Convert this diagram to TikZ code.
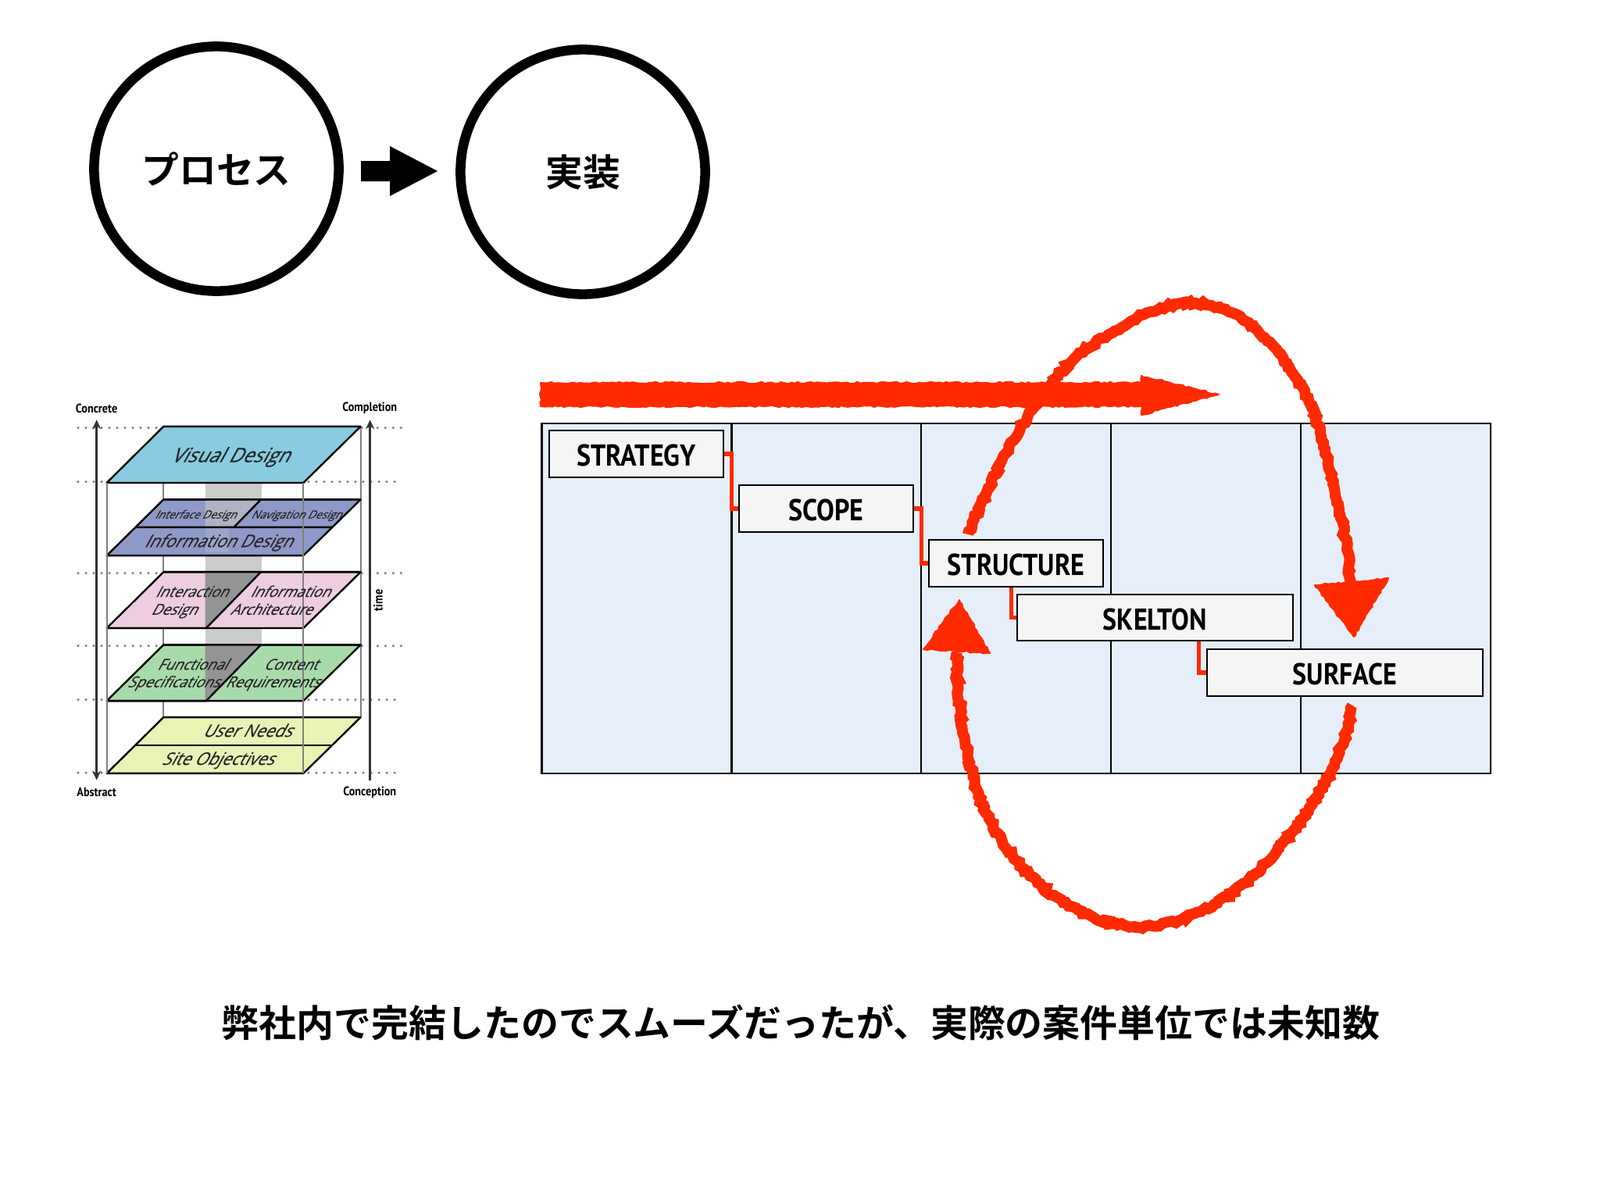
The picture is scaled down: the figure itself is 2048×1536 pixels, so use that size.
\documentclass[tikz,border=0pt]{standalone}
\usepackage{fontspec}
\usetikzlibrary{arrows.meta,decorations.pathmorphing}
\newfontfamily\cjk{Noto Sans CJK JP Bold}
\newfontfamily\din[FakeStretch=0.88]{PT Sans Bold}
\newfontfamily\planefont[FakeSlant=0.55,FakeBold=0.4,FakeStretch=0.95]{Open Sans}
\definecolor{sky}{RGB}{137,203,224}
\definecolor{indigo}{RGB}{143,153,199}
\definecolor{blush}{RGB}{238,205,225}
\definecolor{mint}{RGB}{167,220,170}
\definecolor{lime}{RGB}{233,243,180}
\definecolor{panelblue}{RGB}{230,239,249}
\definecolor{boxgray}{RGB}{245,245,245}
\definecolor{marker}{RGB}{255,42,0}
\begin{document}
\begin{tikzpicture}[
     x = 0.01cm,
     y = -0.01cm,
     ball/.style = {circle, draw, line width = 0.125cm, minimum size = 3.13cm, font = \cjk\fontsize{13.6}{16}\selectfont},
     plane/.style = {draw, line width = 0.024cm, line join = round},
     rail/.style = {draw = black!50, line width = 0.022cm},
     dots/.style = {draw = black!50, line width = 0.035cm, line cap = round, dash pattern = on 0pt off 0.1cm},
     axis/.style = {draw = black!80, line width = 0.035cm},
     axislabel/.style = {font = \din\fontsize{4.6}{5}\selectfont},
     planelabel/.style = {font = \planefont\fontsize{6.3}{7}\selectfont, text = black!85, text height = 0.7em, text depth = 0.2em},
     visuallabel/.style = {planelabel, font = \planefont\fontsize{7.3}{8}\selectfont},
     midlabel/.style = {planelabel, font = \planefont\fontsize{5.5}{6}\selectfont},
     smalllabel/.style = {planelabel, font = \planefont\fontsize{4.1}{5}\selectfont},
     stage/.style = {draw, line width = 0.02cm, fill = boxgray, minimum width = 2.23cm, minimum height = 0.59cm, inner sep = 0pt, text height = 0.31cm, text depth = 0cm, font = \din\fontsize{11}{13}\selectfont},
     longstage/.style = {stage, minimum width = 3.53cm},
     link/.style = {draw = marker, line width = 0.055cm},
     column/.style = {draw, fill = panelblue, line width = 0.022cm},
     scribble/.style = {draw = marker, line width = 0.14cm, decorate, decoration = {random steps, segment length = 1.2pt, amplitude = 0.6pt}},
     scribblefill/.style = {draw = marker, fill = marker, line width = 0.02cm, line join = round, decorate, decoration = {random steps, segment length = 1.2pt, amplitude = 0.35pt}}
    ]
    \useasboundingbox (0,0) rectangle (2048,1536);

    \node[ball] (process) at (277,216) {プロセス};
    \node[ball] (build) at (746,220) {実装};
    \fill (462,206) -- (499,206) -- (499,187) -- (560,219) -- (499,251) -- (499,232) -- (462,232) -- cycle;

    \begin{scope}[shift = {(80,500)}, xscale = 0.3333, yscale = 0.345]
     \draw[dots] (60,138) -- (380,138);
     \draw[dots] (1150,138) -- (1305,138);
     \draw[dots] (60,338) -- (170,338);
     \draw[dots] (945,338) -- (1305,338);
     \draw[dots] (60,677) -- (380,677);
     \draw[dots] (1150,677) -- (1305,677);
     \draw[dots] (60,947) -- (380,947);
     \draw[dots] (1150,947) -- (1305,947);
     \draw[dots] (60,1147) -- (170,1147);
     \draw[dots] (945,1147) -- (1305,1147);
     \draw[dots] (60,1418) -- (170,1418);
     \draw[dots] (945,1418) -- (1305,1418);

     \draw[rail] (388,342) -- (388,1212);
     \draw[rail] (1145,133) -- (1145,1212);
     \fill[black!20] (548,342) rectangle (766,1151);

     \draw[plane, fill = lime] (388,1212) -- (1145,1212) -- (925,1420) -- (170,1420) -- cycle;
     \draw[plane] (280,1316) -- (1035,1316);

     \draw[plane, fill = mint] (388,943) -- (1145,943) -- (925,1151) -- (170,1151) -- cycle;
     \fill[black!42] (548,943) -- (762,943) -- (552,1151) -- (548,1151) -- cycle;
     \draw[plane] (388,943) -- (1145,943) (762,943) -- (552,1151) -- (170,1151);

     \draw[plane, fill = blush] (388,673) -- (1145,673) -- (925,881) -- (170,881) -- cycle;
     \fill[black!42] (548,673) -- (762,673) -- (552,881) -- (548,881) -- cycle;
     \draw[plane] (388,673) -- (1145,673) (762,673) -- (552,881) -- (170,881);

     \draw[plane, fill = indigo] (388,404) -- (1145,404) -- (925,612) -- (170,612) -- cycle;
     \fill[black!25, opacity = 0.7] (548,404) -- (762,404) -- (658,507) -- (548,507) -- cycle;
     \fill[white, opacity = 0.12] (548,507) rectangle (640,600);
     \draw[plane] (388,404) -- (1145,404) (762,404) -- (658,507) (280,507) -- (1035,507);

     \draw[plane, fill = sky] (388,133) -- (1145,133) -- (925,342) -- (170,342) -- cycle;

     \draw[rail] (170,342) -- (170,1420);
     \draw[rail] (925,342) -- (925,1420);

     \coordinate (concretetip) at (131,108);
     \coordinate (abstracttip) at (131,1445);
     \coordinate (completiontip) at (1181,108);
     \coordinate (conceptionend) at (1181,1445);
     \draw[axis, {Stealth[length = 0.12cm, width = 0.11cm]}-{Stealth[length = 0.12cm, width = 0.11cm]}] (concretetip) -- (abstracttip);
     \draw[axis, -{Stealth[length = 0.12cm, width = 0.11cm]}] (conceptionend) -- (completiontip);

     \node[axislabel] (concrete) at (131,66) {Concrete};
     \node[axislabel] (completion) at (1180,66) {Completion};
     \node[axislabel] (abstract) at (131,1490) {Abstract};
     \node[axislabel] (conception) at (1180,1490) {Conception};
     \node[axislabel, rotate = 90] (time) at (1212,778) {time};

     \node[visuallabel] (visual) at (642,240) {Visual Design};
     \node[smalllabel] (interface) at (510,449) {Interface Design};
     \node[smalllabel] (navigation) at (897,449) {Navigation Design};
     \node[planelabel] (information) at (597,555) {Information Design};
     \node[midlabel] (interaction) at (495,740) {Interaction};
     \node[midlabel] (interactiontwo) at (427,806) {Design};
     \node[midlabel] (architecture) at (873,740) {Information};
     \node[midlabel] (architecturetwo) at (800,806) {Architecture};
     \node[midlabel] (functional) at (497,1010) {Functional};
     \node[midlabel] (functionaltwo) at (425,1075) {Specifications};
     \node[midlabel] (content) at (875,1010) {Content};
     \node[midlabel] (contenttwo) at (805,1075) {Requirements};
     \node[planelabel] (needs) at (708,1259) {User Needs};
     \node[planelabel] (objectives) at (595,1363) {Site Objectives};
    \end{scope}

    \draw[column] (693.5,542) rectangle (936.4,990);
    \draw[column] (936.4,542) rectangle (1179.3,990);
    \draw[column] (1179.3,542) rectangle (1422.2,990);
    \draw[column] (1422.2,542) rectangle (1665.2,990);
    \draw[column] (1665.2,542) rectangle (1908,990);

    \node[stage] (strategy) at (814.5,581) {STRATEGY};
    \node[stage] (scope) at (1057.5,651) {SCOPE};
    \node[stage] (structure) at (1300.5,721) {STRUCTURE};
    \node[longstage] (skelton) at (1478.5,790.5) {SKELTON};
    \node[longstage] (surface) at (1721.5,861) {SURFACE};

    \draw[link] (strategy.east) -- (936.4,581) |- (scope.west);
    \draw[link] (scope.east) -- (1179.3,651) |- (structure.west);
    \draw[link] ([xshift = -0.06cm]structure.south) |- (skelton.west);
    \draw[link] ([xshift = 0.56cm]skelton.south) |- (surface.west);

    \fill[scribblefill] (692,490) -- (1461,490) -- (1461,481) -- (1560,505) -- (1461,531) -- (1461,520) -- (692,520) -- cycle;

    \coordinate (riseend) at (1239,684);
    \coordinate (risetip) at (1729,745);
    \draw[scribble] (riseend) .. controls (1280,590) and (1320,510) .. (1379,455) .. controls (1450,405) and (1490,386) .. (1530,388) .. controls (1610,392) and (1680,490) .. (1700,590) .. controls (1715,650) and (1725,700) .. (risetip);
    \fill[scribblefill] (1683,749) -- (1777,740) -- (1733,815) -- cycle;

    \coordinate (fallend) at (1731,903);
    \coordinate (falltip) at (1225,835);
    \draw[scribble] (fallend) .. controls (1715,990) and (1670,1050) .. (1620,1105) .. controls (1570,1160) and (1500,1190) .. (1452,1186) .. controls (1360,1180) and (1280,1100) .. (1250,1010) .. controls (1235,960) and (1225,900) .. (falltip);
    \fill[scribblefill] (1182,831) -- (1267,836) -- (1228,768) -- cycle;

    \node[font = \cjk\fontsize{13.63}{16}\selectfont] (caption) at (1025,1309) {弊社内で完結したのでスムーズだったが、実際の案件単位では未知数};
   \end{tikzpicture}
\end{document}
